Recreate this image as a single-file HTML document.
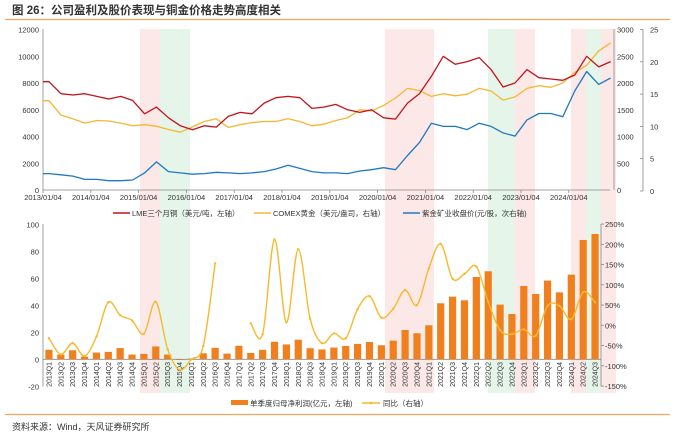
<!DOCTYPE html>
<html><head><meta charset="utf-8"><style>
body{margin:0;background:#fff;font-family:"Liberation Sans","Noto Sans CJK SC",sans-serif}
svg text{font-family:"Liberation Sans","Noto Sans CJK SC",sans-serif}
</style></head><body>
<svg id="c" width="675" height="437" viewBox="0 0 675 437">
<text x="12" y="14" font-size="11.5" font-weight="bold" fill="#333">图 26：公司盈利及股价表现与铜金价格走势高度相关</text>
<line x1="5" y1="19.5" x2="670" y2="19.5" stroke="#f4a460" stroke-width="1.2"/>
<line x1="5" y1="414.5" x2="670" y2="414.5" stroke="#f4a460" stroke-width="1.2"/>
<text x="12" y="430" font-size="9" fill="#333">资料来源：Wind，天风证券研究所</text>
<g id="bands"></g><g id="topg"></g><g id="botg"></g>
</svg>
<script>
const NS='http://www.w3.org/2000/svg';
function mk(tag,attrs,parent,txt){const e=document.createElementNS(NS,tag);for(const k in attrs)e.setAttribute(k,attrs[k]);if(txt!==undefined)e.textContent=txt;parent.appendChild(e);return e;}
// ---- data ----
const yearLabels=['2013/01/04','2014/01/04','2015/01/04','2016/01/04','2017/01/04','2018/01/04','2019/01/04','2020/01/04','2021/01/04','2022/01/04','2023/01/04','2024/01/04'];
const copperLME=[8100,7200,7100,7200,7000,6800,7000,6700,5700,6200,5400,4800,4500,4800,4700,5500,5800,5700,6500,6900,7000,6900,6100,6200,6400,6000,5800,6000,5400,5300,6500,7200,8500,10000,9400,9600,9900,9000,7700,8000,9000,8400,8300,8200,8600,10000,9200,9600];
const goldCOMEX=[1670,1400,1330,1250,1300,1290,1250,1200,1220,1190,1130,1080,1180,1280,1330,1170,1220,1260,1280,1280,1330,1280,1200,1230,1300,1350,1500,1480,1580,1720,1900,1860,1750,1800,1760,1790,1900,1850,1680,1740,1900,1950,1920,2000,2200,2330,2600,2750];
const zijinPrice=[2.7,2.5,2.3,1.8,1.8,1.6,1.6,1.7,2.8,4.5,3.0,2.8,2.6,2.7,2.9,2.8,2.7,2.8,3.0,3.4,4.0,3.5,3.0,2.8,2.8,2.7,3.1,3.3,3.6,3.3,5.5,7.5,10.5,10.0,10.0,9.5,10.5,10.0,9.0,8.5,11.0,12.0,12.0,11.5,15.5,18.5,16.5,17.5];
const quarters=['2013Q1','2013Q2','2013Q3','2013Q4','2014Q1','2014Q2','2014Q3','2014Q4','2015Q1','2015Q2','2015Q3','2015Q4','2016Q1','2016Q2','2016Q3','2016Q4','2017Q1','2017Q2','2017Q3','2017Q4','2018Q1','2018Q2','2018Q3','2018Q4','2019Q1','2019Q2','2019Q3','2019Q4','2020Q1','2020Q2','2020Q3','2020Q4','2021Q1','2021Q2','2021Q3','2021Q4','2022Q1','2022Q2','2022Q3','2022Q4','2023Q1','2023Q2','2023Q3','2023Q4','2024Q1','2024Q2','2024Q3'];
const netProfit=[7,3.5,6.7,2,5,5.5,8.3,3.5,4,9.5,3.5,-0.5,0.5,4.5,8.5,4.2,10,4.7,7,13,11,14.5,8.2,7.3,8.7,9.9,11.4,12.8,10.4,13.8,21.7,19.3,25.2,41.5,46.4,43.7,61,65.2,40.5,33.6,54.3,48.4,58.3,49.6,62.7,88.4,92.8];
const yoy=[-32,-72,-44,-76,-28,57,25,12,-21,58,-59,-110,-84,-51,153,null,null,5,-22,212,7,188,16,-44,-20,-32,40,72,19,41,87,50,141,201,115,127,145,58,-12,-22,-10,-26,48,48,15,82,57];
const leftTicksTop=[0,2000,4000,6000,8000,10000,12000];
const rightTicksTop=[0,500,1000,1500,2000,2500,3000];
const right2Ticks=[0,5,10,15,20,25];
const leftTicksBot=[-20,0,20,40,60,80,100];
const rightTicksBot=[-150,-100,-50,0,50,100,150,200,250];
// ---- axes ----
const X0=43,X1=610;
const tx=t=>X0+(t-2013)*47.8;
const yL=v=>190-v/12000*160.5, yR=v=>190-v/3000*160.5, yR2=v=>191-v/25*161.5;
const bx=i=>X0+(i+0.5)*(601-X0)/47;
const bL=v=>359.3-v*1.35, bR=v=>325.3-v*0.405;
const gTop=document.getElementById('topg'),gBot=document.getElementById('botg'),bands=document.getElementById('bands');
[[140,160,'#fde8e8'],[160,190,'#e6f5ea'],[385,434,'#fde8e8'],[488,515,'#e6f5ea'],[515,535,'#fde8e8'],[571,586,'#fde8e8'],[586,601,'#e6f5ea'],[601,616,'#fde8e8']].forEach(b=>{
 const r=mk('rect',{x:b[0],y:29,width:b[1]-b[0],height:364,fill:b[2]},bands);
 
 
});
let a=mk('line',{x1:X0,y1:190,x2:X1,y2:190,stroke:'#888','stroke-width':0.8},gTop);
a=mk('line',{x1:X0,y1:29,x2:X0,y2:190,stroke:'#888','stroke-width':0.8},gTop);
a=mk('line',{x1:614,y1:29,x2:614,y2:190,stroke:'#888','stroke-width':0.8},gTop);
a=mk('line',{x1:643,y1:29,x2:643,y2:191,stroke:'#888','stroke-width':0.8},gTop);
leftTicksTop.forEach(v=>{const t=mk('text',{x:39,y:yL(v)+3,'font-size':7.5,'text-anchor':'end',fill:'#333'},gTop,String(v));});
rightTicksTop.forEach(v=>{const t=mk('text',{x:617,y:yR(v)+3,'font-size':7.5,fill:'#333'},gTop,String(v));});
right2Ticks.forEach(v=>{mk('line',{x1:640,y1:yR2(v),x2:643,y2:yR2(v),stroke:'#888','stroke-width':0.8},gTop);const t=mk('text',{x:650,y:yR2(v)+3,'font-size':7.5,fill:'#333'},gTop,String(v));});
yearLabels.forEach((l,i)=>{const x=tx(2013+i);mk('line',{x1:x,y1:190,x2:x,y2:193,stroke:'#888','stroke-width':0.8},gTop);const t=mk('text',{x:x,y:200,'font-size':7.5,'text-anchor':'middle',fill:'#333'},gTop,l);});
function series(arr,yf,color,name){const pts=arr.map((v,i)=>tx(2013+(i+0.5)/4).toFixed(1)+','+yf(v).toFixed(1));pts.unshift(tx(2013).toFixed(1)+','+yf(arr[0]).toFixed(1));const p=mk('polyline',{points:pts.join(' '),fill:'none',stroke:color,'stroke-width':1.3,'stroke-linejoin':'round'},gTop);}
series(goldCOMEX,yR,'#f5b731','comex-gold-line');
series(copperLME,yL,'#c0141c','lme-copper-line');
series(zijinPrice,yR2,'#1f78c1','zijin-price-line');
[[113,'#c0141c','LME三个月铜（美元/吨，左轴）','legend-lme-copper'],[254,'#f5b731','COMEX黄金（美元/盎司，右轴）','legend-comex-gold'],[403,'#1f78c1','紫金矿业收盘价(元/股，次右轴)','legend-zijin']].forEach(l=>{const g=mk('g',{},gTop);mk('line',{x1:l[0],y1:213,x2:l[0]+17,y2:213,stroke:l[1],'stroke-width':1.5},g);mk('text',{x:l[0]+19,y:216,'font-size':7.5,fill:'#333'},g,l[2]);});
a=mk('line',{x1:X0,y1:224,x2:X0,y2:386.5,stroke:'#888','stroke-width':0.8},gBot);
a=mk('line',{x1:601,y1:224,x2:601,y2:386.5,stroke:'#888','stroke-width':0.8},gBot);
a=mk('line',{x1:X0,y1:359.3,x2:601,y2:359.3,stroke:'#888','stroke-width':0.8},gBot);
leftTicksBot.forEach(v=>{const t=mk('text',{x:39,y:bL(v)+3,'font-size':7.5,'text-anchor':'end',fill:'#333'},gBot,String(v));});
rightTicksBot.forEach(v=>{mk('line',{x1:601,y1:bR(v),x2:604,y2:bR(v),stroke:'#888','stroke-width':0.8},gBot);const t=mk('text',{x:605,y:bR(v)+3,'font-size':7.5,fill:'#333'},gBot,v+'%');});
netProfit.forEach((v,i)=>{const y=bL(Math.max(v,0)),h=Math.abs(bL(v)-bL(0));const r=mk('rect',{x:bx(i)-3.6,y:y,width:7.2,height:Math.max(h,0.3),fill:'#f07f1e'},gBot);});
quarters.forEach((q,i)=>{const x=bx(i);const t=mk('text',{x:0,y:0,'font-size':7,fill:'#333','text-anchor':'end',transform:`translate(${x+2.5},362) rotate(-90)`},gBot,q);});
let seg=[];const segs=[];yoy.forEach((v,i)=>{if(v===null){if(seg.length)segs.push(seg);seg=[];}else seg.push([bx(i),bR(v)]);});if(seg.length)segs.push(seg);
segs.forEach(s=>{let d='M'+s[0][0]+','+s[0][1];for(let i=0;i<s.length-1;i++){const p0=s[i-1]||s[i],p1=s[i],p2=s[i+1],p3=s[i+2]||p2;const c1=[p1[0]+(p2[0]-p0[0])/6,p1[1]+(p2[1]-p0[1])/6],c2=[p2[0]-(p3[0]-p1[0])/6,p2[1]-(p3[1]-p1[1])/6];d+=` C${c1[0]},${c1[1]} ${c2[0]},${c2[1]} ${p2[0]},${p2[1]}`;}const p=mk('path',{d:d,fill:'none',stroke:'#f7b92e','stroke-width':1.4},gBot);s.forEach(pt=>{const c=mk('circle',{cx:pt[0],cy:pt[1],r:1.2,fill:'#f7b92e'},gBot);});});
let g=mk('g',{},gBot);
mk('rect',{x:231,y:400,width:17,height:5,fill:'#f07f1e'},g);mk('text',{x:250,y:406,'font-size':7.5,fill:'#333'},g,'单季度归母净利润(亿元，左轴)');
g=mk('g',{},gBot);
mk('line',{x1:362,y1:403,x2:380,y2:403,stroke:'#f7b92e','stroke-width':1.4},g);mk('circle',{cx:371,cy:403,r:1.3,fill:'#f7b92e'},g);mk('text',{x:383,y:406,'font-size':7.5,fill:'#333'},g,'同比（右轴）');
</script>
</body></html>
